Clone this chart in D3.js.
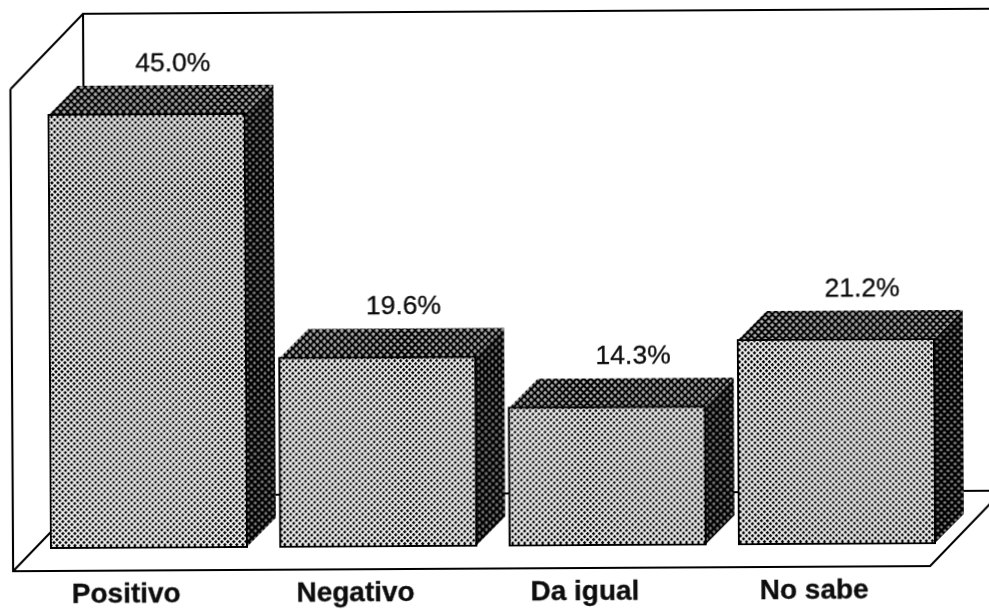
<!DOCTYPE html>
<html>
<head>
<meta charset="utf-8">
<script src="https://cdn.jsdelivr.net/npm/d3@7"></script>
<style>
  html, body { margin: 0; padding: 0; background: #fff; }
  svg { display: block; }
  text { font-family: "Liberation Sans", Arial, sans-serif; fill: #111; stroke: #111; stroke-width: 0.35; }
</style>
</head>
<body>
<div id="chart"></div>
<script>
// Data
const categories = ['Positivo', 'Negativo', 'Da igual', 'No sabe'];
const values = [45.0, 19.6, 14.3, 21.2];
const valueLabels = ['45.0%', '19.6%', '14.3%', '21.2%'];

const width = 989;
const height = 609;
const depth = 29;       // bar depth offset
const tilt = -0.32;     // the scan is slightly crooked

const x = d3.scaleBand()
  .domain(categories)
  .range([51, 935])
  .paddingInner(0.1453);

const y = d3.scaleLinear()
  .domain([0, 45])
  .range([548, 115]);

const svg = d3.select('#chart').append('svg')
  .attr('width', width)
  .attr('height', height);

const defs = svg.append('defs');

// Halftone screens for the three bar faces
function halftone(id, bg, dot, size, dotSize) {
  const p = defs.append('pattern')
    .attr('id', id)
    .attr('patternUnits', 'userSpaceOnUse')
    .attr('width', size)
    .attr('height', size)
    .attr('patternTransform', 'rotate(45)');
  p.append('rect').attr('width', size).attr('height', size).attr('fill', bg);
  p.append('rect')
    .attr('x', (size - dotSize) / 2)
    .attr('y', (size - dotSize) / 2)
    .attr('width', dotSize)
    .attr('height', dotSize)
    .attr('fill', dot);
}
halftone('front', '#ffffff', '#000000', 4.24, 2.8);
halftone('top', '#000000', '#d8d8d8', 4.95, 2.5);
halftone('side', '#000000', '#b0b0b0', 4.95, 2.1);

const soft = defs.append('filter').attr('id', 'soft');
soft.append('feGaussianBlur').attr('stdDeviation', 0.3);

const g = svg.append('g')
  .attr('transform', `rotate(${tilt}, 50, 548)`)
  .attr('filter', 'url(#soft)');

// Walls and floor
const walls = [
  [[13, 89], [13, 571], [930, 571], [1003, 496]],
  [[13, 89], [86, 14], [1003, 14]],
  [[86, 14], [86, 496], [1003, 496]],
  [[13, 571], [86, 496]]
];
const line = d3.line();
g.append('g').selectAll('path')
  .data(walls)
  .join('path')
  .attr('d', line)
  .attr('fill', 'none')
  .attr('stroke', '#000')
  .attr('stroke-width', 2.1);

const rows = categories.map((c, i) => ({ c, v: values[i], label: valueLabels[i] }));

const bars = g.append('g').selectAll('g')
  .data(rows)
  .join('g');

const bw = x.bandwidth();

bars.append('path')
  .attr('fill', 'url(#side)')
  .attr('d', d => line([
    [x(d.c) + bw, y(d.v)],
    [x(d.c) + bw + depth, y(d.v) - depth],
    [x(d.c) + bw + depth, y(0) - depth],
    [x(d.c) + bw, y(0)]
  ]) + 'Z');

bars.append('path')
  .attr('fill', 'url(#top)')
  .attr('d', d => line([
    [x(d.c), y(d.v)],
    [x(d.c) + depth, y(d.v) - depth],
    [x(d.c) + bw + depth, y(d.v) - depth],
    [x(d.c) + bw, y(d.v)]
  ]) + 'Z');

bars.append('rect')
  .attr('x', d => x(d.c))
  .attr('y', d => y(d.v))
  .attr('width', bw)
  .attr('height', d => y(0) - y(d.v))
  .attr('fill', 'url(#front)')
  .attr('stroke', '#000')
  .attr('stroke-width', 2);

bars.append('text')
  .attr('x', d => x(d.c) + bw / 2 + 26.5)
  .attr('y', d => y(d.v) - 43)
  .attr('text-anchor', 'middle')
  .attr('font-size', 26.5)
  .text(d => d.label);

bars.append('text')
  .attr('x', d => x(d.c) + bw / 2 - 23)
  .attr('y', 603)
  .attr('text-anchor', 'middle')
  .attr('font-size', 28)
  .attr('font-weight', 'bold')
  .text(d => d.c);
</script>
</body>
</html>
